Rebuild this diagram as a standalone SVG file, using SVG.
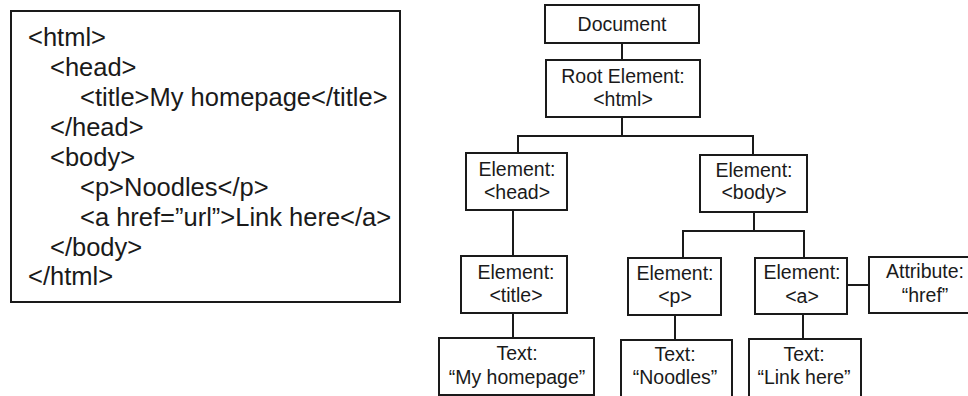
<svg xmlns="http://www.w3.org/2000/svg" width="968" height="396" viewBox="0 0 968 396">
  <style>
    .box { fill: #ffffff; stroke: #1a1a1a; stroke-width: 2; }
    .wire { fill: none; stroke: #1a1a1a; stroke-width: 2; }
    .code { font-family: "Liberation Sans", Arial, sans-serif; font-size: 25.5px; fill: #1a1a1a; }
    .lbl { font-family: "Liberation Sans", Arial, sans-serif; font-size: 19.5px; fill: #1a1a1a; text-anchor: middle; }
  </style>
  <rect width="968" height="396" fill="#ffffff"/>

  <!-- HTML source listing -->
  <g id="source">
    <rect class="box" x="11" y="11" width="389" height="291"/>
    <text class="code" x="28" y="46">&lt;html&gt;</text>
    <text class="code" x="50" y="76">&lt;head&gt;</text>
    <text class="code" x="80" y="106">&lt;title&gt;My homepage&lt;/title&gt;</text>
    <text class="code" x="50" y="136">&lt;/head&gt;</text>
    <text class="code" x="50" y="166">&lt;body&gt;</text>
    <text class="code" x="80" y="195.5">&lt;p&gt;Noodles&lt;/p&gt;</text>
    <text class="code" x="80" y="225.5">&lt;a href=”url”&gt;Link here&lt;/a&gt;</text>
    <text class="code" x="50" y="255.5">&lt;/body&gt;</text>
    <text class="code" x="28" y="285">&lt;/html&gt;</text>
  </g>

  <!-- tree connectors -->
  <g id="connectors">
    <path class="wire" d="M622 43V60"/>
    <path class="wire" d="M622 117V136"/>
    <path class="wire" d="M518 153V136H753V155"/>
    <path class="wire" d="M513 210V256"/>
    <path class="wire" d="M513 313V338"/>
    <path class="wire" d="M754 212V231"/>
    <path class="wire" d="M683 258V231H804V258"/>
    <path class="wire" d="M675 315V340"/>
    <path class="wire" d="M803 314V339"/>
    <path class="wire" d="M847 285H869"/>
  </g>

  <g id="document">
    <rect class="box" x="545" y="5" width="154" height="38"/>
    <text class="lbl" x="622" y="31">Document</text>
  </g>

  <g id="root-html">
    <rect class="box" x="546" y="60" width="154" height="57"/>
    <text class="lbl" x="623" y="83">Root Element:</text>
    <text class="lbl" x="623" y="106">&lt;html&gt;</text>
  </g>

  <g id="el-head">
    <rect class="box" x="466" y="153" width="101" height="57"/>
    <text class="lbl" x="517" y="176">Element:</text>
    <text class="lbl" x="517" y="199">&lt;head&gt;</text>
  </g>

  <g id="el-body">
    <rect class="box" x="700" y="155" width="107" height="57"/>
    <text class="lbl" x="754" y="177">Element:</text>
    <text class="lbl" x="754" y="199">&lt;body&gt;</text>
  </g>

  <g id="el-title">
    <rect class="box" x="461" y="256" width="106" height="57"/>
    <text class="lbl" x="516" y="279">Element:</text>
    <text class="lbl" x="516" y="302">&lt;title&gt;</text>
  </g>

  <g id="el-p">
    <rect class="box" x="628" y="258" width="93" height="57"/>
    <text class="lbl" x="675" y="280">Element:</text>
    <text class="lbl" x="675" y="303">&lt;p&gt;</text>
  </g>

  <g id="el-a">
    <rect class="box" x="755" y="258" width="92" height="56"/>
    <text class="lbl" x="802" y="279">Element:</text>
    <text class="lbl" x="802" y="303">&lt;a&gt;</text>
  </g>

  <g id="attr-href">
    <rect class="box" x="869" y="257" width="112" height="56"/>
    <text class="lbl" x="925" y="278">Attribute:</text>
    <text class="lbl" x="925" y="302">“href”</text>
  </g>

  <g id="text-homepage">
    <rect class="box" x="439" y="338" width="155" height="57"/>
    <text class="lbl" x="517" y="360">Text:</text>
    <text class="lbl" x="517" y="384">“My homepage”</text>
  </g>

  <g id="text-noodles">
    <rect class="box" x="621" y="340" width="111" height="58"/>
    <text class="lbl" x="675" y="361">Text:</text>
    <text class="lbl" x="675" y="384">“Noodles”</text>
  </g>

  <g id="text-link">
    <rect class="box" x="749" y="339" width="112" height="59"/>
    <text class="lbl" x="804" y="361">Text:</text>
    <text class="lbl" x="804" y="384">“Link here”</text>
  </g>
</svg>
